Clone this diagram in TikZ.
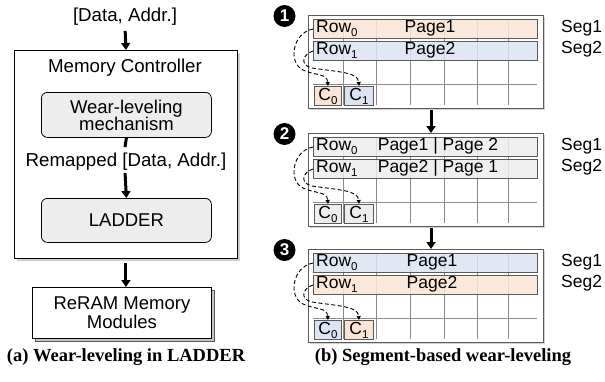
\documentclass[tikz,border=0pt]{standalone}
\usepackage{fontspec}
\setmainfont{Liberation Sans}
\newfontfamily\capfont{Liberation Serif}
\usetikzlibrary{arrows.meta,shadows}
\definecolor{pgor}{HTML}{FBE4D6}
\definecolor{pgbl}{HTML}{DCE3F2}
\definecolor{pggr}{HTML}{EDEDED}
\definecolor{bord}{HTML}{5A5A5A}
\definecolor{gridc}{HTML}{8A8A8A}
\newcommand\segpanel[9]{%
  % #1 name #2 top #3 row0 fill #4 row1 fill #5 row0 text #6 row1 text #7 c0 fill #8 c1 fill #9 number
  \node[panelbox, anchor=north west] (#1) at (308,#2) {};
  \foreach \gx in {343,376,410,444,477,508} {\draw[gridl] (\gx,#2+4) -- (\gx,#2+90);}
  \draw[gridl] (313,#2+69) -- (537,#2+69);
  \node[rowbar, fill=#3, anchor=north west] (#1r0) at (313,#2+4) {};
  \node[rowbar, fill=#4, anchor=north west] (#1r1) at (313,#2+26) {};
  \node[rtext, anchor=west] (#1l0) at (316,#2+13.5) {Row\raisebox{-4pt}{\fontsize{11.5}{11.5}\selectfont 0}};
  \node[rtext, anchor=west] (#1l1) at (316,#2+35.5) {Row\raisebox{-4pt}{\fontsize{11.5}{11.5}\selectfont 1}};
  #5
  #6
  \node[rtext, anchor=west] (#1s0) at (561,#2+13) {Seg1};
  \node[rtext, anchor=west] (#1s1) at (561,#2+34) {Seg2};
  \node[cbox, fill=#7, minimum width=27pt, anchor=north west] (#1c0) at (314,#2+71) {C\raisebox{-4pt}{\fontsize{11.5}{11.5}\selectfont 0}};
  \node[cbox, fill=#8, minimum width=29pt, anchor=north west] (#1c1) at (344,#2+71) {C\raisebox{-4pt}{\fontsize{11.5}{11.5}\selectfont 1}};
  \draw[dashline] (#1r0.west) .. controls (292,#2+18) and (288,#2+48) .. (303,#2+55) .. controls (316,#2+61) and (327,#2+58) .. (#1c0.north);
  \draw[dashline] (#1r1.west) .. controls (303,#2+39) and (299,#2+50) .. (312,#2+53) .. controls (338,#2+57) and (358,#2+57) .. (#1c1.north);
  \node[numc] (#1n) at (284.5,#2+1) {#9};
}
\begin{document}
\begin{tikzpicture}[x=1pt,y=-1pt,
  bigarrow/.style={line width=3pt,-{Triangle[length=7pt,width=9pt]}},
  ltext/.style={font=\fontsize{18.7}{18.7}\selectfont, inner sep=1pt},
  rtext/.style={font=\fontsize{17.5}{17.5}\selectfont, inner sep=0pt},
  inbox/.style={draw=black, line width=0.8pt, rounded corners=6pt, fill=pggr, align=center, font=\fontsize{18.5}{18.5}\selectfont, inner sep=0pt},
  panelbox/.style={draw=bord, line width=0.8pt, fill=white, minimum width=235pt, minimum height=93pt, inner sep=0pt, drop shadow={shadow xshift=1.5pt, shadow yshift=-1.5pt, fill=gray!70}},
  rowbar/.style={draw=bord, line width=1pt, fill opacity=0.85, minimum width=224pt, minimum height=19pt, inner sep=0pt},
  gridl/.style={draw=gridc, line width=0.9pt},
  cbox/.style={draw=bord, line width=1pt, minimum height=19pt, inner sep=0pt, font=\fontsize{17.5}{17.5}\selectfont},
  dashline/.style={draw=black, line width=0.9pt, dash pattern=on 4pt off 2.5pt, -{Triangle[length=4pt,width=4pt]}},
  numc/.style={circle, fill=black, text=white, inner sep=0pt, minimum size=22pt, font=\bfseries\fontsize{17}{17}\selectfont},
  captxt/.style={font=\capfont\bfseries\fontsize{18.5}{18.5}\selectfont, inner sep=0pt}]
\useasboundingbox (0,0) rectangle (605,381);

% ---------- left panel ----------
\node[ltext] (inp) at (125,17) {[Data, Addr.]};
\node[draw=black, line width=0.9pt, fill=white, minimum width=223pt, minimum height=208pt, inner sep=0pt, anchor=north west,
      drop shadow={shadow xshift=2.5pt, shadow yshift=-2.5pt, fill=gray!75}] (mc) at (14,50) {};
\node[ltext] (mct) at (125,68) {Memory Controller};
\node[inbox, minimum width=170pt, minimum height=45pt, anchor=north west] (wl) at (41,92) {Wear-leveling\\[-1.5pt]mechanism};
\node[ltext] (remap) at (126,162) {Remapped [Data, Addr.]};
\coordinate (wlend) at (125,147);
\node[inbox, minimum width=170pt, minimum height=44pt, anchor=north west] (ladder) at (41,198) {LADDER};
\draw[bigarrow, shorten <=4pt] (inp.south) -- (mc.north);
\draw[line width=3pt] (wl.south) -- (wlend);
\draw[bigarrow, shorten <=1pt] (remap.south -| wlend) -- (ladder.north);
% ReRAM modules with a second sheet behind
\draw[draw=bord, line width=0.9pt, fill=gray!45] (35,290) rectangle (214,341);
\node[draw=black, line width=0.9pt, fill=white, minimum width=179pt, minimum height=51pt, inner sep=0pt, anchor=north west,
      align=center, font=\fontsize{18.5}{18.5}\selectfont] (reram) at (32,287) {ReRAM Memory\\[1pt]Modules};
\draw[bigarrow, shorten <=4pt] (mc.south) -- (mc.south |- reram.north);
\node[captxt] (capa) at (126,357) {(a) Wear-leveling in LADDER};

% ---------- right panel ----------
\segpanel{pa}{15}{pgor}{pgbl}%
  {\node[rtext] (paPa) at (430,28.5) {Page1};}%
  {\node[rtext] (paPb) at (430,50.5) {Page2};}%
  {pgor}{pgbl}{1}
\segpanel{pb}{133}{pggr}{pggr}%
  {\node[rtext] (pbPa) at (438,146.5) {Page1 | Page 2};}%
  {\node[rtext] (pbPb) at (438,168.5) {Page2 | Page 1};}%
  {pggr}{pggr}{2}
\segpanel{pc}{249}{pgbl}{pgor}%
  {\node[rtext] (pcPa) at (432,262.5) {Page1};}%
  {\node[rtext] (pcPb) at (432,284.5) {Page2};}%
  {pgbl}{pgor}{3}

\coordinate (ar1) at (431,110);
\coordinate (ar2) at (431,228);
\draw[bigarrow] (ar1) -- (ar1 |- pb.north);
\draw[bigarrow] (ar2) -- (ar2 |- pc.north);

\node[captxt] (capb) at (443,357) {(b) Segment-based wear-leveling};
\end{tikzpicture}
\end{document}
